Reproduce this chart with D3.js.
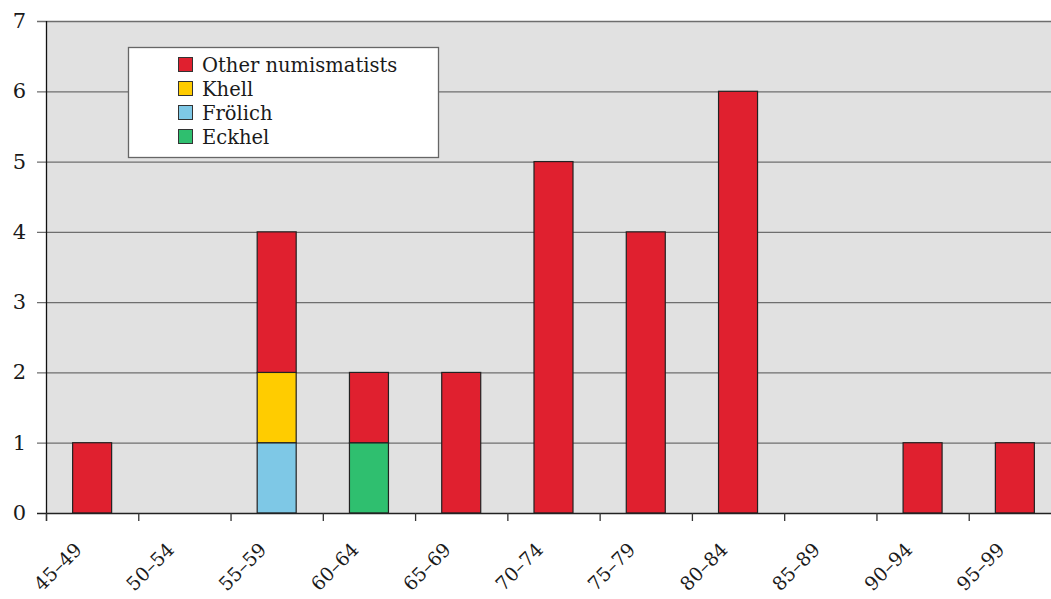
<!DOCTYPE html>
<html>
<head>
<meta charset="utf-8">
<script src="https://cdn.jsdelivr.net/npm/d3@7"></script>
<style>
  html, body { margin: 0; padding: 0; background: #fff; }
  svg { display: block; }
</style>
</head>
<body>
<svg id="chart" width="1051" height="599"></svg>
<script>
// Age groups (years) and the number of numismatists in each
const categories = ["45–49", "50–54", "55–59", "60–64", "65–69", "70–74", "75–79", "80–84", "85–89", "90–94", "95–99"];
const eckhel  = [0, 0, 0, 1, 0, 0, 0, 0, 0, 0, 0];
const frolich = [0, 0, 1, 0, 0, 0, 0, 0, 0, 0, 0];
const khell   = [0, 0, 1, 0, 0, 0, 0, 0, 0, 0, 0];
const others  = [1, 0, 2, 1, 2, 5, 4, 6, 0, 1, 1];
const seriesNames = ["Eckhel", "Frölich", "Khell", "Other numismatists"];
const seriesColors = ["#2fbf6f", "#7ec8e6", "#ffcc00", "#e0202f"];
const yTicks = [0, 1, 2, 3, 4, 5, 6, 7];

const FONT = "DejaVu Serif";
const svg = d3.select("#chart");
const plotL = 46, plotR = 1061, plotT = 21, plotB = 513;

const x = d3.scaleBand().domain(categories).range([plotL, plotR]).paddingInner(0).paddingOuter(0);
const y = d3.scaleLinear().domain([0, 7]).range([plotB, plotT]);

const rows = categories.map((c, i) => ({
  cat: c, "Eckhel": eckhel[i], "Frölich": frolich[i], "Khell": khell[i], "Other numismatists": others[i]
}));
const stacked = d3.stack().keys(seriesNames)(rows);

// plot background
svg.append("rect").attr("x", plotL).attr("y", plotT)
  .attr("width", plotR - plotL).attr("height", plotB - plotT).attr("fill", "#e1e1e1");

// horizontal gridlines with left tick stubs
svg.append("g").selectAll("line").data(yTicks.filter(d => d > 0)).join("line")
  .attr("x1", 37).attr("x2", plotR)
  .attr("y1", d => y(d) + 0.5).attr("y2", d => y(d) + 0.5)
  .attr("stroke", "#6e6e6e").attr("stroke-width", 1.3);

// y tick labels
svg.append("g").selectAll("text").data(yTicks).join("text")
  .attr("x", 26).attr("y", d => y(d) + 7)
  .attr("text-anchor", "end").attr("font-size", 21).attr("fill", "#1a1a1a")
  .style("font-family", FONT)
  .text(d => d);

// stacked bars
const barW = 39;
svg.append("g").selectAll("g").data(stacked).join("g")
  .attr("fill", (d, i) => seriesColors[i])
  .selectAll("rect").data(d => d.filter(s => s[1] - s[0] > 0)).join("rect")
  .attr("x", d => x(d.data.cat) + x.bandwidth() / 2 - barW / 2)
  .attr("y", d => y(d[1]))
  .attr("width", barW)
  .attr("height", d => y(d[0]) - y(d[1]))
  .attr("stroke", "#222").attr("stroke-width", 1.2);

// axis lines
svg.append("line").attr("x1", plotL + 0.5).attr("x2", plotL + 0.5).attr("y1", plotT).attr("y2", plotB + 8)
  .attr("stroke", "#111").attr("stroke-width", 1.3);
svg.append("line").attr("x1", 37).attr("x2", plotR).attr("y1", plotB + 0.5).attr("y2", plotB + 0.5)
  .attr("stroke", "#222").attr("stroke-width", 1.4);

// x ticks at category boundaries
svg.append("g").selectAll("line").data(categories).join("line")
  .attr("x1", d => x(d) + 0.5).attr("x2", d => x(d) + 0.5)
  .attr("y1", plotB).attr("y2", plotB + 8)
  .attr("stroke", "#333").attr("stroke-width", 1.3);

// rotated category labels
svg.append("g").selectAll("text").data(categories).join("text")
  .attr("transform", d => `translate(${x(d) + 37},${551}) rotate(-45)`)
  .attr("text-anchor", "end").attr("font-size", 19).attr("fill", "#1a1a1a")
  .style("font-family", FONT)
  .text(d => d);

// legend
const legend = svg.append("g");
legend.append("rect").attr("x", 128.5).attr("y", 47.5).attr("width", 310).attr("height", 110)
  .attr("fill", "#fff").attr("stroke", "#666").attr("stroke-width", 1.3);
const legendOrder = ["Other numismatists", "Khell", "Frölich", "Eckhel"];
legendOrder.forEach((name, i) => {
  const cy = 65 + i * 24;
  legend.append("rect").attr("x", 178.5).attr("y", cy - 7.5).attr("width", 14).attr("height", 14)
    .attr("fill", seriesColors[seriesNames.indexOf(name)]).attr("stroke", "#333").attr("stroke-width", 1);
  legend.append("text").attr("x", 202).attr("y", cy + 7).attr("font-size", 19.5).attr("fill", "#1a1a1a")
    .style("font-family", FONT).text(name);
});
</script>
</body>
</html>
